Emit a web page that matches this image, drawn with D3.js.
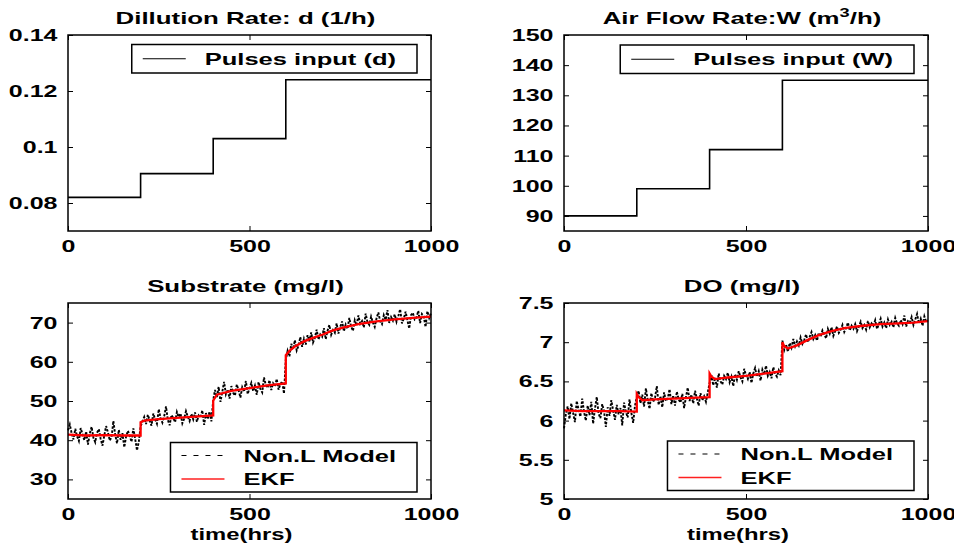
<!DOCTYPE html>
<html><head><meta charset="utf-8">
<script src="https://cdn.jsdelivr.net/npm/d3@7"></script>
<style>
body{margin:0;background:#fff;}
svg{display:block;}
text{font-family:"Liberation Sans",Arial,Helvetica,sans-serif;font-weight:bold;fill:#000;}
</style></head><body>
<svg id="chart" width="954" height="551"></svg>
<script>
// ---------------- DATA ----------------
const inputTimes = [0, 200, 400, 600, 1000];
const dilutionRate = [0.082, 0.0905, 0.103, 0.124, 0.124];
const airFlowRate = [90, 99, 112, 135, 135];

// Non.L Model (noisy), sampled every 5 h from t=0 to t=1000
const substrateModel = [
  42.5, 44.0, 41.8, 40.2, 42.9, 41.0, 39.8, 43.1, 41.5, 40.0, 42.2, 38.9, 41.7, 43.4, 40.6, 39.5, 41.9, 42.8, 40.3, 38.6,
  41.2, 43.6, 42.0, 39.9, 40.8, 44.9, 41.4, 39.2, 42.6, 40.1, 41.8, 38.2, 40.9, 42.4, 41.1, 39.6, 43.0, 40.4, 37.4, 39.6,
  43.5, 44.8, 45.9, 44.1, 46.5, 45.0, 43.7, 46.8, 45.3, 44.2, 47.9, 45.6, 44.5, 46.1, 48.6, 45.2, 43.8, 46.4, 45.7, 44.6,
  47.2, 45.9, 46.8, 44.3, 45.5, 47.4, 46.0, 44.9, 46.7, 45.3, 47.1, 44.7, 46.3, 45.8, 47.6, 43.9, 46.9, 45.4, 47.3, 44.8,
  50.2, 52.8, 51.0, 53.6, 49.8, 52.3, 54.9, 51.7, 52.9, 50.6, 53.8, 52.1, 51.4, 54.2, 52.7, 50.9, 53.5, 52.4, 55.1, 51.8,
  53.2, 54.6, 52.5, 53.9, 51.6, 54.8, 53.1, 52.2, 56.0, 54.0, 53.4, 55.3, 52.8, 54.5, 53.7, 55.6, 52.9, 54.3, 55.0, 51.9,
  60.5, 62.8, 61.4, 64.6, 63.2, 65.5, 62.9, 64.1, 66.3, 63.8,
  65.9, 64.4, 66.8, 65.2, 67.5, 64.9, 66.1, 68.2, 65.7, 67.0,
  66.4, 68.6, 65.8, 67.9, 69.4, 66.9, 68.1, 67.4, 69.8, 67.2,
  68.9, 70.3, 67.8, 69.5, 68.4, 71.2, 69.0, 67.9, 70.6, 69.3,
  71.8, 69.7, 70.4, 68.8, 72.3, 70.1, 69.4, 71.5, 70.0, 68.9,
  71.1, 72.6, 70.3, 69.6, 71.9, 70.7, 73.2, 69.9, 71.4, 70.5,
  72.1, 70.2, 71.7, 73.4, 69.8, 71.0, 72.8, 70.6, 68.5, 71.9,
  72.5, 70.8, 71.3, 73.0, 69.9, 72.2, 71.6, 68.9, 72.9, 71.2,
  72.4
];
const doModel = [
  5.90, 6.08, 6.18, 6.02, 6.22, 6.10, 5.98, 6.25, 6.14, 6.05, 6.28, 6.11, 6.00, 6.19, 6.07, 6.24, 5.96, 6.15, 6.30, 6.09,
  6.03, 6.21, 6.12, 5.92, 6.17, 6.06, 6.26, 6.13, 6.01, 6.20, 6.08, 6.16, 5.94, 6.23, 6.11, 6.04, 6.27, 6.10, 5.97, 6.19,
  6.30, 6.38, 6.22, 6.33, 6.18, 6.41, 6.26, 6.15, 6.35, 6.24, 6.29, 6.44, 6.20, 6.31, 6.17, 6.36, 6.25, 6.28, 6.40, 6.21,
  6.32, 6.19, 6.37, 6.27, 6.23, 6.34, 6.16, 6.30, 6.42, 6.25, 6.33, 6.22, 6.38, 6.28, 6.19, 6.35, 6.26, 6.31, 6.24, 6.36,
  6.48, 6.58, 6.45, 6.55, 6.42, 6.60, 6.50, 6.46, 6.57, 6.53, 6.61, 6.49, 6.56, 6.44, 6.59, 6.52, 6.63, 6.55, 6.50, 6.66,
  6.58, 6.53, 6.62, 6.48, 6.60, 6.67, 6.56, 6.63, 6.51, 6.65, 6.59, 6.70, 6.57, 6.62, 6.54, 6.68, 6.60, 6.56, 6.64, 6.58,
  7.02, 6.90, 6.97, 6.88, 6.99, 6.93, 7.04, 6.95, 7.01, 6.96,
  7.06, 6.98, 7.03, 7.10, 7.00, 7.07, 7.13, 7.04, 7.09, 7.02,
  7.12, 7.07, 7.15, 7.10, 7.05, 7.17, 7.11, 7.19, 7.08, 7.14,
  7.20, 7.12, 7.16, 7.22, 7.13, 7.18, 7.25, 7.15, 7.21, 7.17,
  7.23, 7.14, 7.20, 7.26, 7.18, 7.22, 7.16, 7.27, 7.19, 7.24,
  7.21, 7.28, 7.17, 7.23, 7.30, 7.20, 7.25, 7.18, 7.29, 7.22,
  7.26, 7.19, 7.31, 7.24, 7.21, 7.28, 7.23, 7.34, 7.20, 7.27,
  7.25, 7.32, 7.22, 7.29, 7.36, 7.24, 7.30, 7.21, 7.33, 7.26,
  7.28
];

// EKF estimates
const ekfSubTimes = [0, 50, 100, 150, 200, 200, 210, 250, 300, 350, 400, 400, 410, 450, 500, 550, 600, 600, 610, 625, 650, 675, 700, 730, 760, 800, 850, 900, 950, 1000];
const ekfSubstrate = [41.4, 41.2, 41.3, 41.2, 41.2, 44.6, 45.0, 45.4, 45.7, 46.0, 46.3, 50.1, 51.6, 52.6, 53.3, 54.0, 54.5, 61.7, 62.8, 63.9, 65.2, 66.1, 66.9, 68.0, 68.8, 69.6, 70.3, 70.8, 71.2, 71.5];
const ekfDOTimes = [0, 50, 100, 150, 200, 200, 205, 215, 250, 300, 350, 400, 400, 405, 415, 450, 500, 550, 600, 600, 605, 615, 640, 670, 700, 735, 770, 820, 870, 920, 960, 1000];
const ekfDO = [6.13, 6.12, 6.12, 6.12, 6.115, 6.34, 6.30, 6.26, 6.27, 6.28, 6.29, 6.30, 6.60, 6.56, 6.53, 6.55, 6.57, 6.60, 6.63, 7.00, 6.95, 6.92, 6.96, 7.03, 7.09, 7.14, 7.18, 7.21, 7.23, 7.24, 7.25, 7.27];

// Ticks & labels
const xTicks = [0, 500, 1000];
const dTicks = [0.08, 0.1, 0.12, 0.14];
const wTicks = [90, 100, 110, 120, 130, 140, 150];
const sTicks = [30, 40, 50, 60, 70];
const doTicks = [5, 5.5, 6, 6.5, 7, 7.5];
const titles = [["Dillution Rate: d (1/h)"], ["Air Flow Rate:W (m", "3", "/h)"], ["Substrate (mg/l)"], ["DO (mg/l)"]];
const xLabel = "time(hrs)";
const legendInputD = ["Pulses input (d)"];
const legendInputW = ["Pulses input (W)"];
const legendEst = ["Non.L Model", "EKF"];

// ---------------- DRAWING ----------------
const svg = d3.select("#chart");
const STRETCH = 1.47;
function stretch(sel, f) {
  sel.each(function () {
    const w = this.getComputedTextLength();
    d3.select(this).attr("textLength", w * f).attr("lengthAdjust", "spacingAndGlyphs");
  });
}

const noisyTimes = substrateModel.map((_, i) => i * 5);

const panels = [
  {l: 68, r: 431, t: 35, b: 231, ydom: [0.07, 0.14], yt: dTicks, fmt: d3.format("~g"), title: titles[0], xl: false},
  {l: 564, r: 928, t: 35, b: 231, ydom: [85, 150], yt: wTicks, fmt: d3.format("d"), title: titles[1], xl: false},
  {l: 68, r: 431, t: 303, b: 499, ydom: [25, 75], yt: sTicks, fmt: d3.format("d"), title: titles[2], xl: true},
  {l: 564, r: 928, t: 303, b: 499, ydom: [5, 7.5], yt: doTicks, fmt: d3.format("~g"), title: titles[3], xl: true}
];

panels.forEach(p => {
  p.x = d3.scaleLinear().domain([0, 1000]).range([p.l, p.r]);
  p.y = d3.scaleLinear().domain(p.ydom).range([p.b, p.t]);
  const g = svg.append("g");
  p.g = g;
  const ax = (gen, tr) => {
    const a = g.append("g").attr("transform", tr).call(gen);
    a.select(".domain").remove();
    a.selectAll(".tick line").attr("stroke", "#000").attr("stroke-width", 1);
    return a;
  };
  const yl = ax(d3.axisLeft(p.y).tickValues(p.yt).tickFormat(p.fmt).tickSize(-5).tickPadding(10.5), `translate(${p.l},0)`);
  ax(d3.axisRight(p.y).tickValues(p.yt).tickFormat("").tickSize(-5), `translate(${p.r},0)`);
  const xb = ax(d3.axisBottom(p.x).tickValues(xTicks).tickFormat(d3.format("d")).tickSize(-5).tickPadding(9), `translate(0,${p.b})`);
  ax(d3.axisTop(p.x).tickValues(xTicks).tickFormat("").tickSize(-5), `translate(0,${p.t})`);
  [yl, xb].forEach(a => {
    a.selectAll("text").attr("font-size", 17).attr("font-family", null).attr("fill", "#000");
    stretch(a.selectAll("text"), STRETCH);
  });
  // title (with optional superscript part)
  const tt = g.append("text").attr("x", (p.l + p.r) / 2 - 4).attr("y", p.t - 11)
    .attr("text-anchor", "middle").attr("font-size", 17);
  if (p.title.length === 1) {
    tt.text(p.title[0]);
  } else {
    tt.append("tspan").text(p.title[0]);
    tt.append("tspan").attr("dy", -7).attr("font-size", 12).text(p.title[1]);
    tt.append("tspan").attr("dy", 7).text(p.title[2]);
  }
  stretch(tt, 1.52);
  if (p.xl) {
    const xt = g.append("text").attr("x", p.x(500) - 8).attr("y", p.b + 41)
      .attr("text-anchor", "middle").attr("font-size", 17).text(xLabel);
    stretch(xt, 1.4);
  }
});

function frame(p) {
  p.g.append("rect").attr("x", p.l).attr("y", p.t).attr("width", p.r - p.l).attr("height", p.b - p.t)
    .attr("fill", "none").attr("stroke", "#000").attr("stroke-width", 1.5);
}

// Panel 1 & 2: step inputs
[[panels[0], dilutionRate], [panels[1], airFlowRate]].forEach(([p, vals]) => {
  const line = d3.line().curve(d3.curveStepAfter).x((d, i) => p.x(inputTimes[i])).y(d => p.y(d));
  p.g.append("path").datum(vals).attr("d", line).attr("fill", "none").attr("stroke", "#000").attr("stroke-width", 1.6);
});

// Panel 3 & 4: noisy model + EKF
[[panels[2], substrateModel, ekfSubTimes, ekfSubstrate], [panels[3], doModel, ekfDOTimes, ekfDO]].forEach(([p, model, et, ev]) => {
  const nl = d3.line().x((d, i) => p.x(noisyTimes[i])).y(d => p.y(d));
  p.g.append("path").datum(model).attr("d", nl).attr("fill", "none").attr("stroke", "#000")
    .attr("stroke-width", 1.9).attr("stroke-dasharray", "2.5,1.5");
  const el = d3.line().x((d, i) => p.x(et[i])).y(d => p.y(d));
  p.g.append("path").datum(ev).attr("d", el).attr("fill", "none").attr("stroke", "#ff0000").attr("stroke-width", 2.3);
});

panels.forEach(frame);

// Legends
function legend(p, labels, styles, top, rowH, rowOff) {
  const g = p.g.append("g");
  const texts = labels.map((lab, i) => {
    const t = g.append("text").attr("font-size", 17).attr("y", top + rowOff + i * rowH).attr("dy", "0.36em").text(lab);
    stretch(t, 1.5);
    return t;
  });
  const tw = d3.max(texts, t => +t.attr("textLength"));
  const padL = 11, lineLen = 43, gap = 19, padR = 21;
  const w = padL + lineLen + gap + tw + padR;
  const left = p.r - 14 - w;
  const h = rowOff * 2 + (labels.length - 1) * rowH;
  g.insert("rect", ":first-child").attr("x", left).attr("y", top).attr("width", w).attr("height", h)
    .attr("fill", "#fff").attr("stroke", "#000").attr("stroke-width", 1.5);
  texts.forEach((t, i) => {
    t.attr("x", left + padL + lineLen + gap);
    const s = styles[i];
    g.append("line").attr("x1", left + padL).attr("x2", left + padL + lineLen)
      .attr("y1", top + rowOff + i * rowH).attr("y2", top + rowOff + i * rowH)
      .attr("stroke", s.color).attr("stroke-width", s.width).attr("stroke-dasharray", s.dash);
  });
}
const solidBlack = {color: "#000", width: 1.2, dash: null};
const dashedBlack = {color: "#000", width: 1.2, dash: "5,7"};
const solidRed = {color: "#ff2020", width: 1.6, dash: null};
legend(panels[0], legendInputD, [solidBlack], panels[0].t + 9.5, 0, 14.25);
legend(panels[1], legendInputW, [solidBlack], panels[1].t + 10, 0, 14.25);
legend(panels[2], legendEst, [dashedBlack, solidRed], panels[2].b - 56.5, 23.5, 13);
legend(panels[3], legendEst, [dashedBlack, solidRed], panels[3].b - 58, 23.5, 13);
</script>
</body></html>
